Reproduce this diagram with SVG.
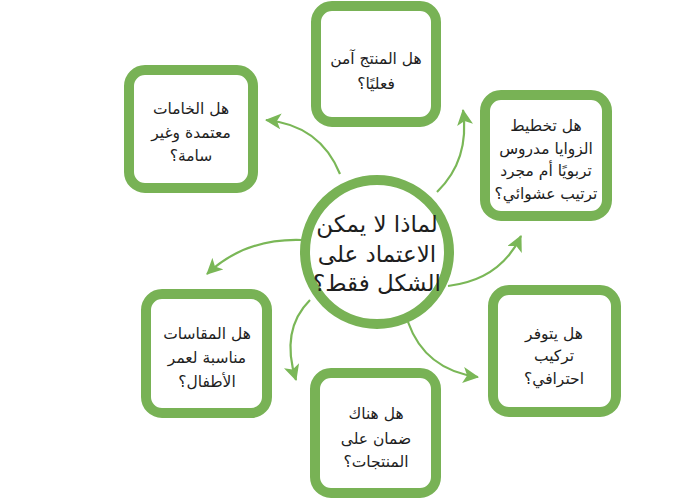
<svg xmlns="http://www.w3.org/2000/svg" width="700" height="500" viewBox="0 0 700 500">
<style>
.box{fill:#fff;stroke:#78b255;stroke-width:10}
.t{font-family:"DejaVu Sans","Noto Sans",sans-serif;font-size:15.5px;fill:#1e1e1e;text-anchor:middle;direction:rtl}
.tc{font-family:"DejaVu Sans","Noto Sans",sans-serif;font-size:23px;fill:#1e1e1e;text-anchor:middle;direction:rtl}
.arr{fill:none;stroke:#7ab757;stroke-width:2.2;marker-end:url(#ah)}
</style>
<defs>
<marker id="ah" markerUnits="userSpaceOnUse" markerWidth="18" markerHeight="16" refX="15" refY="8" orient="auto">
<path d="M0,0 L16,8 L0,16 L4,8 Z" fill="#7ab757"/>
</marker>
</defs>
<rect width="700" height="500" fill="#fff"/>
<g id="connectors">
<path class="arr" d="M340,174 Q320,125 266,120"/>
<path class="arr" d="M437,192 Q470,160 463,110"/>
<path class="arr" d="M448,286 Q500,280 521,236"/>
<path class="arr" d="M408,322 Q425,370 478,377"/>
<path class="arr" d="M310,300 Q280,330 296,380"/>
<path class="arr" d="M302,240 Q245,238 207,274"/>
</g>
<g id="center">
<circle cx="377" cy="252" r="72" fill="#fff" stroke="#78b255" stroke-width="10"/>
<text class="tc" x="377" y="232">لماذا لا يمكن</text>
<text class="tc" x="377" y="262">الاعتماد على</text>
<text class="tc" x="377" y="291">الشكل فقط؟</text>
</g>
<g id="n-top">
<rect class="box" x="316" y="6" width="120" height="116" rx="16"/>
<text class="t" x="376" y="64">هل المنتج آمن</text>
<text class="t" x="376" y="89">فعليًا؟</text>
</g>
<g id="n-topleft">
<rect class="box" x="129" y="70" width="124" height="118" rx="16"/>
<text class="t" x="191" y="114">هل الخامات</text>
<text class="t" x="191" y="138">معتمدة وغير</text>
<text class="t" x="191" y="161">سامة؟</text>
</g>
<g id="n-rightup">
<rect class="box" x="485" y="95" width="122" height="121" rx="16"/>
<text class="t" x="546" y="131">هل تخطيط</text>
<text class="t" x="546" y="154">الزوايا مدروس</text>
<text class="t" x="546" y="176">تربويًا أم مجرد</text>
<text class="t" x="546" y="199">ترتيب عشوائي؟</text>
</g>
<g id="n-rightdown">
<rect class="box" x="493" y="290" width="123" height="122" rx="16"/>
<text class="t" x="554" y="339">هل يتوفر</text>
<text class="t" x="554" y="361">تركيب</text>
<text class="t" x="554" y="384">احترافي؟</text>
</g>
<g id="n-bottom">
<rect class="box" x="315" y="373" width="121" height="120" rx="16"/>
<text class="t" x="376" y="419">هل هناك</text>
<text class="t" x="376" y="444">ضمان على</text>
<text class="t" x="376" y="467">المنتجات؟</text>
</g>
<g id="n-leftdown">
<rect class="box" x="146" y="294" width="121" height="119" rx="16"/>
<text class="t" x="207" y="339">هل المقاسات</text>
<text class="t" x="207" y="363">مناسبة لعمر</text>
<text class="t" x="207" y="387">الأطفال؟</text>
</g>
</svg>
